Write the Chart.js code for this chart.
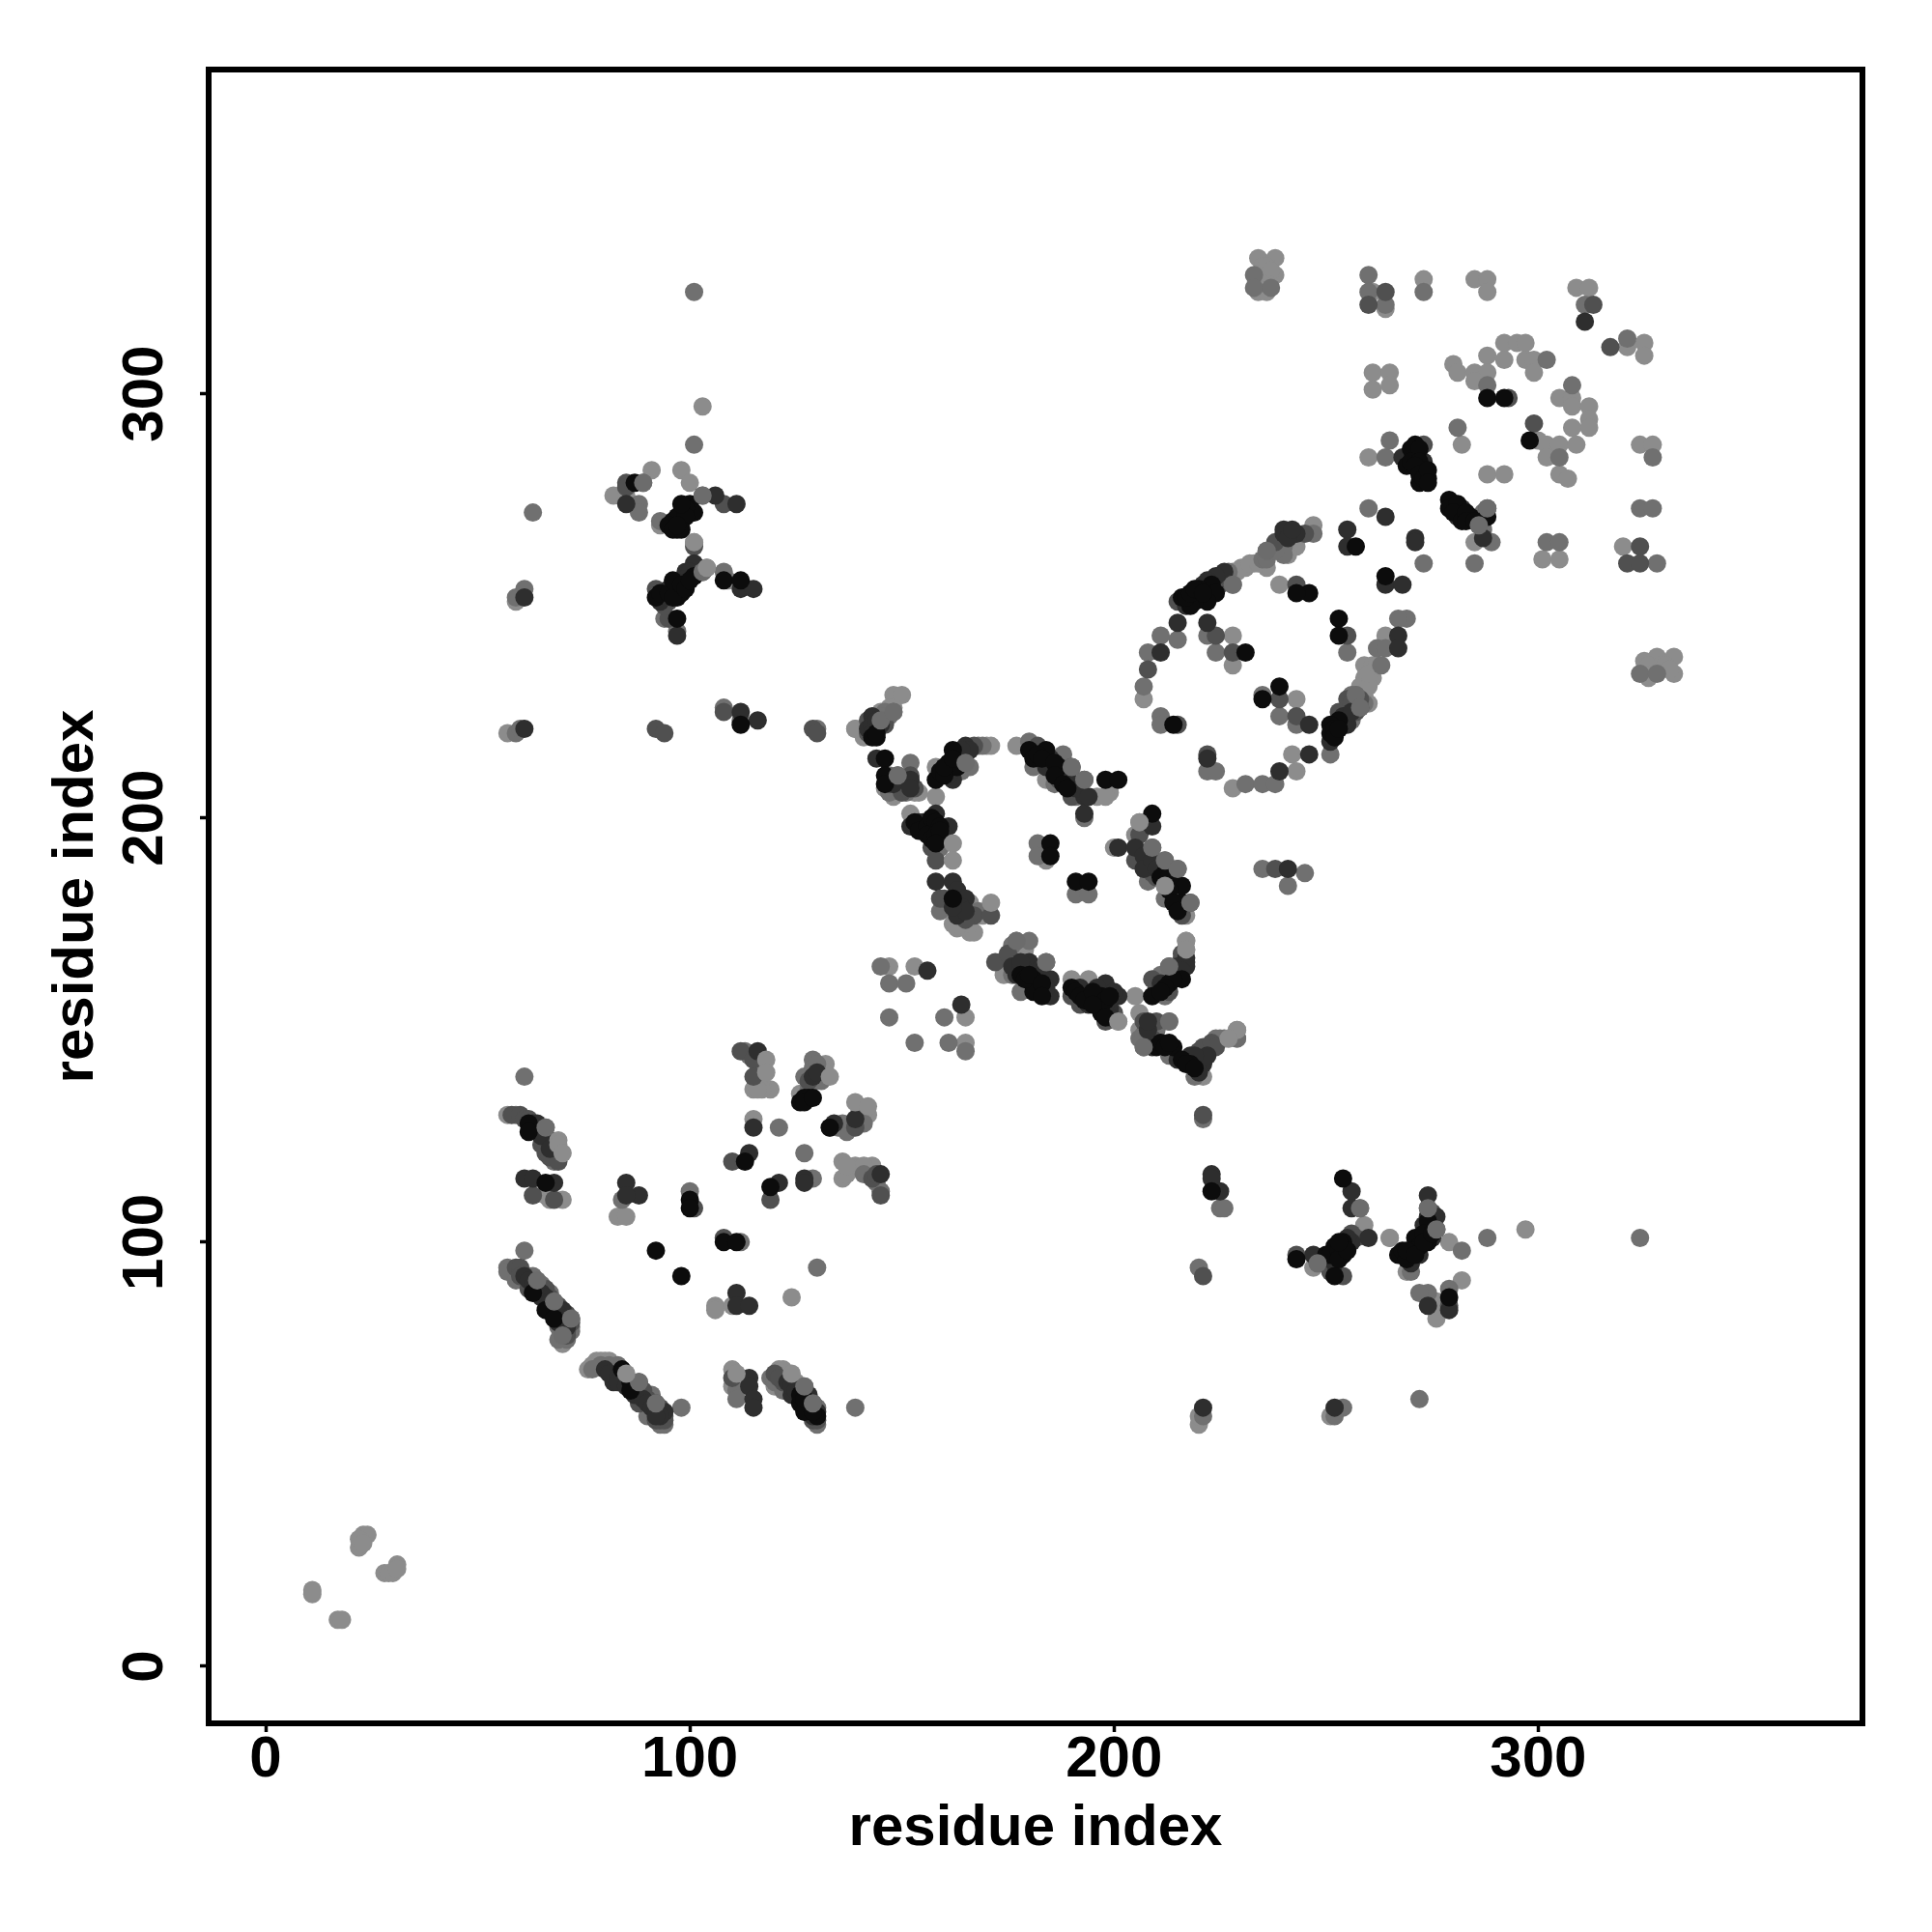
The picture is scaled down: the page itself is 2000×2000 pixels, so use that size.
<!DOCTYPE html>
<html>
<head>
<meta charset="utf-8">
<title>residue contacts</title>
<style>
  html, body { margin: 0; padding: 0; background: #fff; }
  #wrap { width: 2000px; height: 2000px; }
</style>
<script src="https://cdn.jsdelivr.net/npm/chart.js@4/dist/chart.umd.min.js"></script>
</head>
<body>
<div id="wrap"><canvas id="contactChart" width="2000" height="2000"></canvas></div>
<script>
const xTickValues = [0, 100, 200, 300];
const yTickValues = [0, 100, 200, 300];
const xTitle = "residue index";
const yTitle = "residue index";

// points, grouped by how dark they are
const lightPts = [
  [11,18],[11,17],[17,11],[18,11],[22,28],[23,31],[24,31],[22,30],[23,29],[28,22],[29,22],[30,22],[31,24],[31,23],
  [57,130],[67,110],[70,110],[66,111],[83,106],[85,106],[106,85],[106,84],[110,85],[124,87],[76,70],[78,72],[110,70],[110,66],
  [121,70],[120,66],[115,136],[119,136],[117,137],[132,142],[126,135],[115,129],[136,119],[136,115],[139,118],[143,118],[70,76],
  [148,229],[150,229],[148,226],[145,225],[139,221],[141,219],[146,207],[153,206],[154,206],[148,205],[158,212],[170,217],[171,217],[158,205],
  [177,217],[184,209],[196,205],[199,206],[198,205],[152,201],[166,180],[169,177],[163,174],[166,173],[167,173],[184,190],
  [206,199],[205,196],[200,193],[212,184],[217,177],[177,168],[173,166],[174,163],[190,162],[194,162],[201,152],
  [217,171],[217,169],[205,158],[206,154],[206,150],[221,139],[229,150],[227,148],
  [147,165],[153,165],[165,153],[165,147],
  [234,332],[238,332],[238,328],[234,324],[261,324],[264,320],[273,327],[285,327],[288,327],[288,324],[309,325],[312,325],
  [321,311],[325,312],[325,309],[261,305],[265,305],[261,301],[265,302],[292,312],[295,312],[297,312],[288,309],[292,308],
  [280,307],[281,305],[285,305],[288,305],[285,303],[297,308],[299,308],[299,305],[305,299],[308,299],[308,297],[312,297],
  [312,294],[312,292],[308,292],[300,289],[302,288],[305,288],[309,288],[302,285],[305,281],[307,280],[324,288],[327,288],
  [282,288],[288,281],[292,281],[260,285],[285,265],[301,261],[305,261],[320,264],[325,237],[328,238],[332,238],[332,234],
  [247,269],[243,264],[236,259],[233,260],[230,259],[228,258],[239,255],[228,243],[207,228],[228,236],[243,228],[242,215],[243,211],[228,207],
  [264,243],[259,236],[261,236],[261,233],[259,233],[259,229],
  [103,297],[91,282],[98,282],[100,279],[82,276],[85,276],[93,269],[101,265],[104,259],[109,256],[59,251],[57,220],[139,221],
  [259,104],[265,101],[247,94],[269,93],[279,100],[297,103],[282,91],[276,86],[276,84],[276,82],[220,57],[220,59],[251,59],
  [77,71],[79,72],[80,72],[81,72],[123,69],[122,70],[125,67],[147,226],[149,206],[166,175],[162,175],[179,169],
  [229,258],[231,259],[232,260],[234,260],[241,262],[258,231],[260,231],[260,234],[262,236],[260,227],
  [137,116],[141,118],[137,118],[117,141],[116,139],[117,136],[116,136],[116,143],[131,141],[140,131],[142,130],
  [235,330],[236,330],[235,327],[237,329],[236,326],[236,324],[235,326],[326,236],[327,234],[329,236],[330,236],[326,233],[331,235]
];
const midLightPts = [
  [147,153],[153,147],[61,139],[59,130],[66,127],[68,119],[130,94],[112,100],[100,112],[84,110],[57,94],[57,93],[61,98],[59,91],
  [62,92],[67,88],[68,86],[72,82],[72,79],[79,71],[91,64],[90,59],[93,57],[94,57],[98,61],[111,65],[111,63],[119,68],[127,66],
  [130,61],[130,57],[139,61],[129,143],[127,139],[129,141],[121,127],[127,121],[129,115],[145,112],[133,127],[135,127],
  [148,225],[146,224],[145,223],[152,213],[147,210],[148,207],[165,213],[168,217],[180,218],[181,212],[188,215],[193,200],[159,178],
  [159,193],[182,194],[182,191],[191,182],[194,182],[212,190],[208,185],[215,188],[212,181],[177,171],[180,171],[184,166],[178,159],
  [213,165],[212,158],[206,148],[213,152],[210,150],[207,146],[213,144],[225,148],[229,148],[145,165],[147,161],[151,161],[160,153],
  [161,147],[165,145],[235,188],[245,187],[241,184],[211,224],[211,222],[222,211],[224,211],[231,208],[235,208],[238,208],
  [233,328],[233,325],[237,325],[260,328],[260,324],[264,321],[273,324],[311,321],[321,313],[288,302],[302,308],[308,302],
  [305,285],[327,285],[281,292],[265,289],[264,285],[260,273],[286,269],[289,265],[285,260],[273,260],[302,265],[305,265],
  [328,260],[324,273],[327,273],[324,234],[328,234],[247,267],[240,264],[240,262],[236,263],[228,255],[215,242],[222,243],
  [211,243],[208,239],[207,231],[224,239],[239,224],[243,222],[235,229],[255,239],[269,247],[267,247],[262,240],[264,240],[263,236],[257,229],[256,223],[251,215],
  [101,288],[89,279],[88,274],[88,272],[63,272],[103,276],[93,270],[108,258],[94,247],[97,244],[61,254],[59,252],[59,220],[60,221],[108,226],[112,223],[130,221],
  [221,129],[225,108],[226,108],[220,94],[221,59],[254,61],[252,59],[272,63],[258,108],[248,95],[274,103],[270,93],[282,98],[288,101],[324,101],[101,324],[279,89],[274,88],[272,88],
  [60,93],[63,92],[65,90],[69,80],[72,80],[71,77],[69,77],[81,71],[83,71],[82,70],[77,70],[120,67],[122,65],[128,63],
  [146,225],[147,224],[145,224],[150,208],[150,209],[151,206],[147,206],[166,212],[164,211],[169,217],[191,205],[186,208],
  [168,178],[214,182],[176,163],[176,170],[211,163],[207,149],[226,148],[224,148],[219,139],
  [227,258],[227,256],[235,261],[236,261],[237,263],[238,263],[257,227],[259,227],[256,229],[286,271],[287,268],[287,272],
  [141,116],[144,114],[113,145],[114,144],[130,142],[131,138],[128,136],[137,127],[136,128],[140,130],[141,128],[137,126]
];
const midPts = [
  [110,119],[108,101],[101,108],[63,111],[68,110],[119,110],[59,94],[60,94],[62,89],[66,89],[72,81],[88,67],[88,62],[92,62],[92,58],
  [110,68],[122,67],[129,62],[112,145],[115,143],[115,139],[139,127],[143,115],[145,111],[66,121],[68,120],[65,123],
  [142,223],[142,220],[149,210],[150,206],[152,210],[164,213],[187,209],[190,212],[190,205],[157,193],[158,190],[159,181],[167,177],[171,177],
  [193,209],[209,193],[205,190],[208,188],[218,180],[172,166],[177,166],[190,158],[198,152],[216,167],[209,162],[210,152],[222,146],[221,130],[238,188],[222,215],[215,222],
  [264,324],[260,321],[313,321],[317,311],[293,299],[299,293],[273,288],[288,273],[324,264],[321,260],[324,260],
  [215,251],[243,255],[255,243],[224,243],[208,235],[228,239],[239,228],[243,224],[255,228],[258,226],
  [85,279],[85,278],[108,274],[103,258],[92,254],[95,251],[95,247],[101,264],[92,221],[94,220],[108,225],[129,221],[130,220],
  [221,92],[243,97],[251,93],[254,92],[274,108],[276,103],[279,85],
  [58,130],[60,130],[61,129],[62,129],[64,127],[66,125],[67,124],[67,120],[69,121],[69,119],
  [60,92],[64,90],[65,89],[67,87],[69,85],[71,83],[71,79],[71,78],[84,68],[86,66],[87,65],[89,65],[90,63],[91,62],[93,61],[93,58],[94,58],[94,59],
  [120,69],[121,68],[129,58],[130,58],[146,222],[147,208],[149,208],[151,207],[153,207],[164,214],[165,215],[167,217],[182,217],[189,210],[192,206],
  [160,181],[165,176],[206,196],[209,187],[210,186],[216,177],[175,168],[200,154],[192,156],[214,164],[216,168],[210,160],[213,159],
  [207,152],[209,148],[220,145],[221,146],[223,147],[224,146],[225,255],[225,257],[226,256],[238,265],[245,267],
  [253,225],[256,227],[257,225],[258,228],[270,286],[94,250],[256,102],[257,101],[275,107],[144,116],[128,138]
];
const darkPts = [
  [64,126],[63,127],[65,125],[63,128],[64,128],[61,115],[63,115],[68,114],[85,114],[88,111],[85,111],[111,88],[111,85],[114,85],[65,87],
  [70,84],[69,81],[80,70],[82,67],[87,64],[94,60],[114,68],[114,66],[115,63],[115,61],[124,64],[128,64],[116,145],[129,139],
  [139,129],[134,128],[115,127],[114,121],[121,114],[127,115],[127,114],[145,116],[67,122],
  [143,224],[142,221],[144,221],[144,214],[152,209],[162,209],[165,217],[166,216],[184,212],[190,208],[193,205],[193,201],
  [152,198],[154,199],[158,201],[161,198],[159,195],[158,185],[162,185],[163,177],[209,198],[201,193],[205,193],[208,190],
  [177,163],[180,166],[185,162],[185,158],[198,161],[201,158],[199,155],[217,165],[218,144],[221,142],[222,144],[156,164],[164,156],[241,188],[222,214],[239,211],
  [311,317],[264,271],[282,273],[271,266],[271,265],[255,268],[255,264],[268,285],[243,267],[240,267],[226,258],[224,257],[264,255],[268,255],
  [215,246],[222,246],[211,239],[267,243],[267,240],[255,224],[254,222],[251,218],[246,222],[246,215],
  [85,274],[106,276],[111,274],[101,260],[94,252],[112,254],[115,254],[97,243],[61,252],[61,221],[112,225],[116,223],
  [223,116],[223,115],[225,112],[221,61],[252,61],[256,112],[256,108],[260,101],[247,97],[252,95],[256,100],[274,111],[276,106],[270,95],[274,85],[279,84],
  [61,92],[62,91],[63,90],[64,89],[65,88],[66,87],[67,86],[68,84],[69,83],[70,82],[71,81],[71,80],[81,69],[83,68],[83,67],[85,66],[87,66],[89,63],[90,62],[91,61],[92,60],[93,59],[92,59],
  [123,67],[124,66],[125,65],[128,62],[128,60],[129,59],[130,60],[143,222],[144,223],[145,222],[143,220],[148,208],[152,207],
  [163,215],[164,216],[161,210],[185,214],[186,211],[188,211],[189,209],[191,207],[194,205],
  [155,199],[160,196],[163,183],[164,181],[165,181],[164,179],[165,178],[162,179],[207,191],[207,188],[209,190],[210,188],[215,179],
  [176,165],[178,165],[182,164],[183,162],[184,160],[178,166],[192,160],[196,160],[198,156],[199,153],[200,159],[194,156],
  [215,163],[215,165],[211,161],[217,167],[217,166],[216,164],[208,150],[208,152],[209,146],[215,143],[220,140],[219,144],
  [217,250],[221,255],[222,256],[240,268],[241,266],[242,268],[254,224],[255,222],[256,225],[273,284],[281,271],[287,266],
  [95,254],[99,258],[100,258],[93,251],[251,96],[255,101],[272,97],[275,101],[273,104],[274,106],[130,140]
];
const blackPts = [
  [62,128],[62,126],[66,114],[92,98],[98,92],[108,100],[111,100],[100,110],[100,108],[113,119],[119,113],[63,88],[66,84],[68,82],
  [84,70],[86,67],[86,65],[126,62],[127,60],[130,59],[128,134],[126,133],[133,127],
  [144,219],[146,214],[146,210],[158,209],[161,213],[162,216],[163,212],[180,216],[184,216],[187,212],[198,209],[201,209],
  [157,198],[155,197],[162,181],[185,194],[185,191],[191,185],[194,185],[209,201],[212,187],[216,184],[216,180],
  [181,162],[181,159],[190,160],[194,158],[196,157],[197,158],[197,154],[216,162],[213,161],[209,158],[210,146],[214,146],[218,142],[214,222],
  [288,299],[292,299],[298,289],[271,288],[271,285],[269,283],[273,282],[274,280],[272,279],[280,274],[284,271],[288,271],[257,264],
  [223,255],[224,253],[220,254],[222,251],[219,251],[246,253],[243,253],[264,257],[253,247],[253,243],[231,239],[239,231],[235,228],[253,223],[251,222],[251,220],[252,221],
  [87,279],[100,274],[101,272],[98,272],[96,270],[98,270],[97,268],[101,257],[108,256],[112,256],[92,252],[97,255],[98,253],[97,252],[97,247],[112,222],
  [223,112],[254,115],[252,99],[254,100],[254,97],[252,92],[271,101],[274,100],[272,99],[270,98],[267,97],[274,105],[243,96],[279,87],
  [126,64],[127,63],[129,60],[143,219],[144,220],[146,208],[159,211],[160,210],[160,212],[162,214],
  [181,214],[182,215],[183,214],[186,213],[186,210],[188,208],[189,207],[153,199],[154,197],[156,198],[157,200],[158,199],[159,198],[156,196],[157,195],[158,196],[159,197],[158,194],
  [211,186],[213,186],[213,183],[214,180],[215,178],[178,163],[179,162],[180,163],[183,161],[183,158],
  [191,159],[192,158],[193,157],[195,159],[197,156],[198,157],[199,158],[198,153],[195,156],[214,162],[212,160],[211,159],
  [211,147],[212,146],[213,147],[216,143],[217,142],[219,141],[216,252],[218,250],[217,252],[218,253],[219,254],[221,253],
  [252,219],[253,221],[270,287],[272,287],[270,284],[272,284],[271,283],[272,281],[273,280],[274,282],[274,279],
  [279,275],[279,273],[281,274],[280,272],[282,270],[283,272],[283,270],[285,270],
  [97,271],[99,273],[99,271],[98,274],[95,269],[96,268],[98,268],[97,269],[93,253],[95,253],[96,252],[96,256],[98,255],[99,254],[100,256],
  [250,97],[251,97],[253,98],[253,96],[255,98],[253,100],[268,98],[269,96],[269,98],[271,97],[273,102],[273,100],[275,102],[127,134],[127,133],[129,134]
];
// gray discs that sit on top of the dark clusters
const overLightPts = [
  [69,124],[69,123],[70,121],[85,69],[111,69],[124,69],[118,143],[118,140],[133,139],[139,133],[142,132],
  [162,194],[162,190],[171,180],[206,199],[212,184],[201,152],[217,171],[217,169],[265,101],[229,150],[227,148],[104,259],[101,265]
];
const overMidPts = [
  [66,127],[68,86],[72,82],[70,78],[64,91],[88,67],[92,62],[127,66],[129,62],[145,223],[148,225],[149,210],[165,213],
  [190,212],[193,209],[212,190],[215,188],[218,180],[209,193],[184,166],[177,171],[213,165],[207,146],[213,152],[229,148],
  [288,273],[286,269],[228,255],[236,263],[257,229],[258,226],[276,103],[274,108],[258,108],[248,95],[103,276],[103,258],[89,279]
];

const pointColors = {
  overLight: "#8c8c8c",
  overMid: "#6c6c6c",
  black: "#0c0c0c",
  dark: "#2e2e2e",
  mid: "#505050",
  midLight: "#707070",
  light: "#8c8c8c",
};

function serie(pts, color) {
  return {
    data: pts.map((p) => ({ x: p[0], y: p[1] })),
    backgroundColor: color,
    borderWidth: 0,
    pointRadius: 9.5,
    pointHoverRadius: 9.5,
  };
}

// caixa em volta do gráfico
const framePlugin = {
  id: "frame",
  afterDatasetsDraw(chart) {
    const { ctx, chartArea: a } = chart;
    ctx.save();
    ctx.strokeStyle = "#000";
    ctx.lineWidth = 6;
    ctx.strokeRect(a.left, a.top, a.right - a.left, a.bottom - a.top);
    ctx.restore();
  },
};

const tickFont = { family: "'Liberation Sans'", weight: "bold", size: 60, lineHeight: 1.2 };

new Chart(document.getElementById("contactChart").getContext("2d"), {
  type: "scatter",
  data: {
    datasets: [
      serie(overLightPts, pointColors.overLight),
      serie(overMidPts, pointColors.overMid),
      serie(blackPts, pointColors.black),
      serie(darkPts, pointColors.dark),
      serie(midPts, pointColors.mid),
      serie(midLightPts, pointColors.midLight),
      serie(lightPts, pointColors.light),
    ],
  },
  options: {
    responsive: false,
    devicePixelRatio: 1,
    animation: false,
    layout: { padding: { top: 72, right: 72, left: 0, bottom: 0 } },
    plugins: { legend: { display: false }, tooltip: { enabled: false } },
    scales: {
      x: {
        type: "linear",
        min: -13.44,
        max: 376.44,
        afterFit: (s) => { s.height = 216; },
        afterBuildTicks: (s) => { s.ticks = xTickValues.map((v) => ({ value: v })); },
        grid: { drawOnChartArea: false, tickLength: 9, tickWidth: 3.5, tickColor: "#000" },
        border: { display: false },
        ticks: { color: "#000", font: tickFont, padding: -7, maxRotation: 0, autoSkip: false },
        title: {
          display: true,
          text: xTitle,
          color: "#000",
          font: tickFont,
          padding: { top: 0, bottom: 71 },
        },
      },
      y: {
        type: "linear",
        min: -13.44,
        max: 376.44,
        afterFit: (s) => { s.width = 216; },
        afterBuildTicks: (s) => { s.ticks = yTickValues.map((v) => ({ value: v })); },
        grid: { drawOnChartArea: false, tickLength: 9, tickWidth: 3.5, tickColor: "#000" },
        border: { display: false },
        ticks: {
          color: "#000",
          font: tickFont,
          padding: 5,
          minRotation: 90,
          maxRotation: 90,
          crossAlign: "center",
          autoSkip: false,
        },
        title: {
          display: true,
          text: yTitle,
          color: "#000",
          font: tickFont,
          padding: { top: 43, bottom: 0 },
        },
      },
    },
  },
  plugins: [framePlugin],
});
</script>
</body>
</html>
